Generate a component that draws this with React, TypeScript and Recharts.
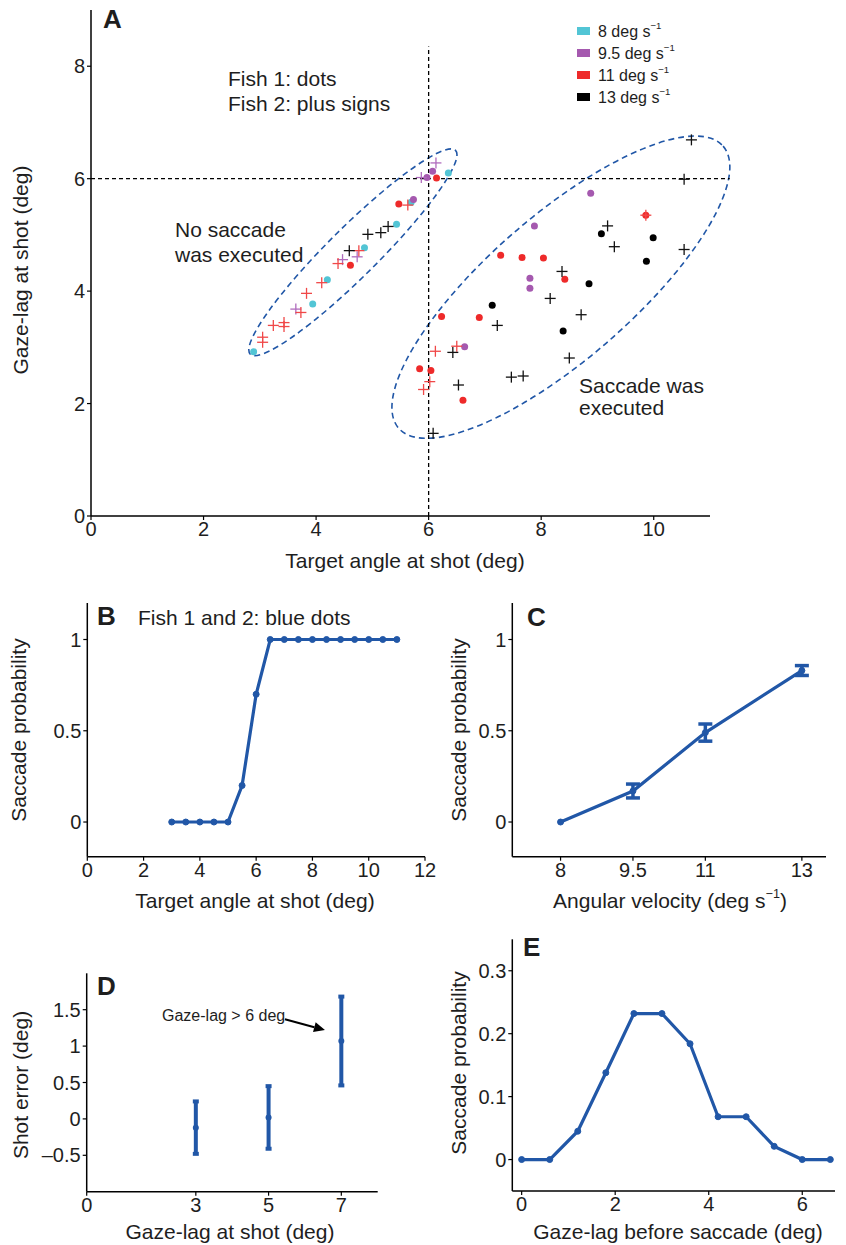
import React from "react";
import {
  Customized,
  ErrorBar,
  Line,
  LineChart,
  ReferenceArea,
  ReferenceLine,
  Scatter,
  ScatterChart,
  XAxis,
  YAxis,
} from "recharts";

const FONT = "'Liberation Sans', Arial, Helvetica, sans-serif";
const BLUE = "#2157a7";
const INK = "#1e1e1e";

// ---- Panel A: target angle vs gaze-lag at shot, [x, y] ----
const velocityNames = ["8", "9.5", "11", "13"];
const velocityColors = ["#52c5d5", "#a559af", "#ee2a2a", "#000000"];
const plusColors = ["#52c5d5", "#b06cbd", "#f04848", "#111111"];

// Fish 1: dots
const fish1At8 = [[2.89, 2.92], [3.94, 3.77], [4.2, 4.2], [4.86, 4.77], [5.43, 5.19], [5.69, 5.58], [6.35, 6.1]];
const fish1At95 = [[5.73, 5.63], [5.97, 6.02], [6.07, 6.13], [8.88, 5.74], [7.88, 5.16], [7.8, 4.23], [7.8, 4.05], [6.64, 3.01]];
const fish1At11 = [
  [4.61, 4.46], [5.47, 5.55], [6.14, 6.01], [9.86, 5.35], [7.28, 4.64], [7.66, 4.6], [8.04, 4.59],
  [8.42, 4.21], [6.23, 3.55], [6.9, 3.53], [5.84, 2.62], [6.04, 2.59], [6.61, 2.06],
];
const fish1At13 = [[9.07, 5.02], [9.99, 4.95], [9.87, 4.53], [8.85, 4.13], [7.13, 3.75], [8.39, 3.29]];

// Fish 2: plus signs
const fish2At95 = [[3.64, 3.68], [4.47, 4.56], [4.73, 4.61], [5.87, 6.02], [6.13, 6.28]];
const fish2At11 = [
  [3.05, 3.18], [3.05, 3.09], [3.24, 3.39], [3.43, 3.44], [3.43, 3.37], [3.73, 3.62], [3.83, 3.96],
  [4.1, 4.15], [4.39, 4.49], [4.76, 4.72], [5.63, 5.53], [9.86, 5.35], [6.12, 2.93], [6.5, 3.02],
  [6.02, 2.39], [5.91, 2.25],
];
const fish2At13 = [
  [4.59, 4.72], [4.92, 5.01], [5.15, 5.04], [5.28, 5.15], [10.67, 6.69], [10.54, 5.99], [9.18, 5.16],
  [9.3, 4.79], [10.54, 4.74], [8.37, 4.35], [8.16, 3.87], [8.71, 3.58], [7.22, 3.39], [6.43, 2.91],
  [8.5, 2.81], [7.47, 2.47], [7.68, 2.49], [6.53, 2.33], [6.08, 1.47],
];

const aXTicks = [0, 2, 4, 6, 8, 10];
const aYTicks = [0, 2, 4, 6, 8];

// ---- Panel B ----
const bAngles = [3, 3.5, 4, 4.5, 5, 5.5, 6, 6.5, 7, 7.5, 8, 8.5, 9, 9.5, 10, 10.5, 11];
const bProb = [0, 0, 0, 0, 0, 0.2, 0.7, 1, 1, 1, 1, 1, 1, 1, 1, 1, 1];
const bXTicks = [0, 2, 4, 6, 8, 10, 12];
const probTicks = [0, 0.5, 1];

// ---- Panel C ----
const cVelocity = [8, 9.5, 11, 13];
const cProb = [0, 0.17, 0.49, 0.83];
const cErr = [0, 0.038, 0.047, 0.027];

// ---- Panel D ----
const dLag = [3, 5, 7];
const dError = [-0.12, 0.02, 1.07];
const dErr = [0.36, 0.43, 0.61];
const dXTicks = [0, 3, 5, 7];
const dYTicks = [-0.5, 0, 0.5, 1, 1.5];

// ---- Panel E ----
const eLag = [0, 0.6, 1.2, 1.8, 2.4, 3.0, 3.6, 4.2, 4.8, 5.4, 6.0, 6.6];
const eProb = [0, 0, 0.045, 0.138, 0.232, 0.232, 0.184, 0.068, 0.068, 0.021, 0, 0];
const eXTicks = [0, 2, 4, 6];
const eYTicks = [0, 0.1, 0.2, 0.3];

const toPts = (arr: number[][]) => arr.map(([x, y]) => ({ x, y }));

const tickStyle = { fontSize: 20, fill: INK, fontFamily: FONT };
const axisLine = { stroke: "#000", strokeWidth: 1.5 };
const tickLine = { stroke: "#000", strokeWidth: 1.2 };

function Txt({
  x,
  y,
  children,
  size = 21,
  anchor = "start",
  rotate = false,
  bold = false,
}: {
  x: number;
  y: number;
  children: React.ReactNode;
  size?: number;
  anchor?: "start" | "middle" | "end";
  rotate?: boolean;
  bold?: boolean;
}) {
  return (
    <text
      x={x}
      y={y}
      fontSize={size}
      fontFamily={FONT}
      fontWeight={bold ? 700 : 400}
      fill={INK}
      textAnchor={anchor}
      dominantBaseline="central"
      transform={rotate ? `rotate(-90 ${x} ${y})` : undefined}
    >
      {children}
    </text>
  );
}

const dotShape = (color: string, r: number) => (p: any) =>
  p.cx == null ? <g /> : <circle cx={p.cx} cy={p.cy} r={r} fill={color} />;

const plusShape = (color: string) => (p: any) => {
  if (p.cx == null) return <g />;
  const h = 5.5;
  return (
    <g stroke={color} strokeWidth={1.3}>
      <line x1={p.cx - h} y1={p.cy} x2={p.cx + h} y2={p.cy} />
      <line x1={p.cx} y1={p.cy - h} x2={p.cx} y2={p.cy + h} />
    </g>
  );
};

const ellipseShape = (deg: number) => (p: any) => {
  const w = Math.abs(p.width);
  const h = Math.abs(p.height);
  const cx = Math.min(p.x, p.x + p.width) + w / 2;
  const cy = Math.min(p.y, p.y + p.height) + h / 2;
  return (
    <ellipse
      cx={cx}
      cy={cy}
      rx={w / 2}
      ry={h / 2}
      transform={`rotate(${-deg} ${cx} ${cy})`}
      fill="none"
      stroke={BLUE}
      strokeWidth={1.6}
      strokeDasharray="6 4"
    />
  );
};

const arrowShape = (p: any) => {
  const { x1, y1, x2, y2 } = p;
  if (x1 == null) return <g />;
  const ang = Math.atan2(y2 - y1, x2 - x1);
  const L = 11;
  const W = 5;
  const bx = x2 - L * Math.cos(ang);
  const by = y2 - L * Math.sin(ang);
  const px = -Math.sin(ang) * W;
  const py = Math.cos(ang) * W;
  return (
    <g>
      <line x1={x1} y1={y1} x2={bx} y2={by} stroke="#000" strokeWidth={2} />
      <polygon points={`${x2},${y2} ${bx + px},${by + py} ${bx - px},${by - py}`} fill="#000" />
    </g>
  );
};

// "−1" superscript; optional tail text returns to the baseline
function Sup({ base, tail = "" }: { base: string; tail?: string }) {
  return (
    <>
      {base}
      <tspan dy={-6} fontSize="0.6em">
        −1
      </tspan>
      {tail ? <tspan dy={6}>{tail}</tspan> : null}
    </>
  );
}

function PanelA() {
  const dotSets = [fish1At8, fish1At95, fish1At11, fish1At13];
  const plusSets: [number[][], number][] = [
    [fish2At95, 1],
    [fish2At11, 2],
    [fish2At13, 3],
  ];
  return (
    <ScatterChart width={846} height={590} margin={{ top: 10, right: 136, bottom: 34, left: 41 }}>
      <XAxis
        type="number"
        dataKey="x"
        domain={[0, 11]}
        ticks={aXTicks}
        interval={0}
        height={40}
        tickSize={4}
        tick={tickStyle}
        axisLine={axisLine}
        tickLine={tickLine}
        allowDataOverflow
      />
      <YAxis
        type="number"
        dataKey="y"
        domain={[0, 9]}
        ticks={aYTicks}
        interval={0}
        width={50}
        tickSize={4}
        tick={tickStyle}
        axisLine={axisLine}
        tickLine={tickLine}
        allowDataOverflow
      />
      <ReferenceLine
        segment={[{ x: 6, y: 0 }, { x: 6, y: 8.35 }]}
        stroke="#000"
        strokeWidth={1.3}
        strokeDasharray="4 3"
        ifOverflow="visible"
      />
      <ReferenceLine
        segment={[{ x: 0, y: 6 }, { x: 11.35, y: 6 }]}
        stroke="#000"
        strokeWidth={1.3}
        strokeDasharray="4 3"
        ifOverflow="visible"
      />
      <ReferenceArea
        x1={4.654 - 2.57}
        x2={4.654 + 2.57}
        y1={4.69 - 0.44}
        y2={4.69 + 0.44}
        ifOverflow="visible"
        shape={ellipseShape(44.8)}
      />
      <ReferenceArea
        x1={8.35 - 3.82}
        x2={8.35 + 3.82}
        y1={4.07 - 1.28}
        y2={4.07 + 1.28}
        ifOverflow="visible"
        shape={ellipseShape(41)}
      />
      {dotSets.map((set, i) => (
        <Scatter
          key={`d${i}`}
          data={toPts(set)}
          shape={dotShape(velocityColors[i], 3.5)}
          isAnimationActive={false}
        />
      ))}
      {plusSets.map(([set, ci]) => (
        <Scatter key={`p${ci}`} data={toPts(set)} shape={plusShape(plusColors[ci])} isAnimationActive={false} />
      ))}
      <Customized
        component={
          <g>
            <Txt x={103} y={19} size={26} bold>
              A
            </Txt>
            <Txt x={20} y={270} anchor="middle" rotate>
              Gaze-lag at shot (deg)
            </Txt>
            <Txt x={405} y={560} anchor="middle">
              Target angle at shot (deg)
            </Txt>
            <Txt x={228} y={78}>Fish 1: dots</Txt>
            <Txt x={228} y={103}>Fish 2: plus signs</Txt>
            <Txt x={175} y={229}>No saccade</Txt>
            <Txt x={175} y={254}>was executed</Txt>
            <Txt x={579} y={385}>Saccade was</Txt>
            <Txt x={579} y={407}>executed</Txt>
            {velocityNames.map((v, i) => (
              <g key={v}>
                <rect x={577} y={27 + i * 22} width={13} height={8} fill={velocityColors[i]} />
                <Txt x={598} y={31 + i * 22} size={16}>
                  <Sup base={`${v} deg s`} />
                </Txt>
              </g>
            ))}
          </g>
        }
      />
    </ScatterChart>
  );
}

function PanelB() {
  const data = bAngles.map((x, i) => ({ x, y: bProb[i] }));
  return (
    <LineChart width={440} height={340} data={data} margin={{ top: 23, right: 15, bottom: 23.3, left: 37.3 }}>
      <XAxis
        type="number"
        dataKey="x"
        domain={[0, 12]}
        ticks={bXTicks}
        interval={0}
        height={40}
        tickSize={4}
        tick={tickStyle}
        axisLine={axisLine}
        tickLine={tickLine}
      />
      <YAxis
        type="number"
        domain={[-0.19, 1.2]}
        ticks={probTicks}
        interval={0}
        width={50}
        tickSize={4}
        tick={tickStyle}
        axisLine={axisLine}
        tickLine={tickLine}
        allowDataOverflow
      />
      <Line
        type="linear"
        dataKey="y"
        stroke={BLUE}
        strokeWidth={3.2}
        dot={{ r: 3, fill: BLUE, stroke: BLUE, strokeWidth: 1 }}
        isAnimationActive={false}
      />
      <Customized
        component={
          <g>
            <Txt x={97} y={36} size={26} bold>
              B
            </Txt>
            <Txt x={138} y={37}>Fish 1 and 2: blue dots</Txt>
            <Txt x={18} y={150} anchor="middle" rotate>
              Saccade probability
            </Txt>
            <Txt x={255} y={320} anchor="middle">
              Target angle at shot (deg)
            </Txt>
          </g>
        }
      />
    </LineChart>
  );
}

function PanelC() {
  const data = cVelocity.map((x, i) => ({ x, y: cProb[i], err: cErr[i] }));
  return (
    <LineChart width={416} height={340} data={data} margin={{ top: 23, right: 20, bottom: 23.3, left: 32.3 }}>
      <XAxis
        type="number"
        dataKey="x"
        domain={[7, 13.5]}
        ticks={cVelocity}
        interval={0}
        height={40}
        tickSize={4}
        tick={tickStyle}
        axisLine={axisLine}
        tickLine={tickLine}
      />
      <YAxis
        type="number"
        domain={[-0.19, 1.2]}
        ticks={probTicks}
        interval={0}
        width={50}
        tickSize={4}
        tick={tickStyle}
        axisLine={axisLine}
        tickLine={tickLine}
        allowDataOverflow
      />
      <Line
        type="linear"
        dataKey="y"
        stroke={BLUE}
        strokeWidth={3.2}
        dot={{ r: 3, fill: BLUE, stroke: BLUE, strokeWidth: 1 }}
        isAnimationActive={false}
      >
        <ErrorBar dataKey="err" direction="y" width={7} stroke={BLUE} strokeWidth={3.5} />
      </Line>
      <Customized
        component={
          <g>
            <Txt x={97} y={37} size={26} bold>
              C
            </Txt>
            <Txt x={28} y={150} anchor="middle" rotate>
              Saccade probability
            </Txt>
            <Txt x={240} y={320} anchor="middle">
              <Sup base="Angular velocity (deg s" tail=")" />
            </Txt>
          </g>
        }
      />
    </LineChart>
  );
}

function PanelD() {
  const data = dLag.map((x, i) => ({ x, y: dError[i], err: dErr[i] }));
  const fmt = (v: number) => (v < 0 ? `\u2013${Math.abs(v)}` : `${v}`);
  return (
    <ScatterChart width={440} height={315} margin={{ top: 43.3, right: 62.3, bottom: 13.3, left: 36.7 }}>
      <XAxis
        type="number"
        dataKey="x"
        domain={[0, 8]}
        ticks={dXTicks}
        interval={0}
        height={40}
        tickSize={4}
        tick={tickStyle}
        axisLine={axisLine}
        tickLine={tickLine}
      />
      <YAxis
        type="number"
        dataKey="y"
        domain={[-1, 2]}
        ticks={dYTicks}
        interval={0}
        width={50}
        tickSize={4}
        tick={tickStyle}
        tickFormatter={fmt}
        axisLine={axisLine}
        tickLine={tickLine}
      />
      <ReferenceLine
        segment={[{ x: 5.45, y: 1.37 }, { x: 6.55, y: 1.22 }]}
        ifOverflow="visible"
        shape={arrowShape}
      />
      <Scatter data={data} shape={dotShape(BLUE, 3)} isAnimationActive={false}>
        <ErrorBar dataKey="err" direction="y" width={3} stroke={BLUE} strokeWidth={4} />
      </Scatter>
      <Customized
        component={
          <g>
            <Txt x={97} y={56} size={26} bold>
              D
            </Txt>
            <Txt x={162} y={85} size={16}>
              Gaze-lag &gt; 6 deg
            </Txt>
            <Txt x={20} y={155} anchor="middle" rotate>
              Shot error (deg)
            </Txt>
            <Txt x={230} y={301.7} anchor="middle">
              Gaze-lag at shot (deg)
            </Txt>
          </g>
        }
      />
    </ScatterChart>
  );
}

function PanelE() {
  const data = eLag.map((x, i) => ({ x, y: eProb[i] }));
  return (
    <LineChart width={416} height={315} data={data} margin={{ top: 9.3, right: 11, bottom: 14, left: 32.3 }}>
      <XAxis
        type="number"
        dataKey="x"
        domain={[-0.2, 6.7]}
        ticks={eXTicks}
        interval={0}
        height={40}
        tickSize={4}
        tick={tickStyle}
        axisLine={axisLine}
        tickLine={tickLine}
      />
      <YAxis
        type="number"
        domain={[-0.05, 0.35]}
        ticks={eYTicks}
        interval={0}
        width={50}
        tickSize={4}
        tick={tickStyle}
        axisLine={axisLine}
        tickLine={tickLine}
      />
      <Line
        type="linear"
        dataKey="y"
        stroke={BLUE}
        strokeWidth={3.2}
        dot={{ r: 3, fill: BLUE, stroke: BLUE, strokeWidth: 1 }}
        isAnimationActive={false}
      />
      <Customized
        component={
          <g>
            <Txt x={93} y={17} size={26} bold>
              E
            </Txt>
            <Txt x={28} y={133} anchor="middle" rotate>
              Saccade probability
            </Txt>
            <Txt x={248} y={301.7} anchor="middle">
              Gaze-lag before saccade (deg)
            </Txt>
          </g>
        }
      />
    </LineChart>
  );
}

export default function App() {
  const place = (left: number, top: number): React.CSSProperties => ({ position: "absolute", left, top });
  return (
    <div style={{ position: "absolute", left: 0, top: 0, width: 846, height: 1245, background: "#fff" }}>
      <div style={place(0, 0)}>
        <PanelA />
      </div>
      <div style={place(0, 580)}>
        <PanelB />
      </div>
      <div style={place(430, 580)}>
        <PanelC />
      </div>
      <div style={place(0, 930)}>
        <PanelD />
      </div>
      <div style={place(430, 930)}>
        <PanelE />
      </div>
    </div>
  );
}
